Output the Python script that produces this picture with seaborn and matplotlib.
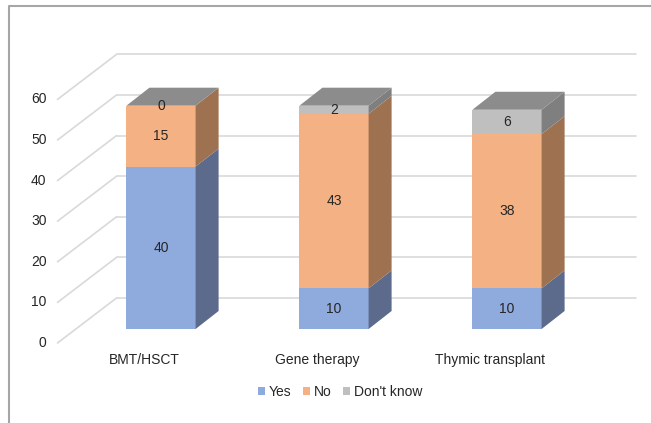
import numpy as np
import pandas as pd
import matplotlib
matplotlib.use('Agg')
import matplotlib.pyplot as plt
from matplotlib.patches import Polygon, Patch
from matplotlib.lines import Line2D
import seaborn as sns

# Data
categories = ['BMT/HSCT', 'Gene therapy', 'Thymic transplant']
yes = [40, 10, 10]
no = [15, 43, 38]
dont_know = [0, 2, 6]
series_names = ['Yes', 'No', "Don't know"]
y_ticks = [0, 10, 20, 30, 40, 50, 60]

front_colors = ['#8faadc', '#f4b183', '#bfbfbf']
side_colors = ['#5c6b8c', '#9e7251', '#7f7f7f']
top_color = '#8c8c8c'
grid_color = '#d9d9d9'
text_color = '#262626'

sns.set_style('white')
plt.rcParams['font.family'] = ['Liberation Sans', 'DejaVu Sans']

DPI = 100
fig = plt.figure(figsize=(6.51, 4.23), dpi=DPI)
# axes = front plane of the bars
ax = fig.add_axes([74.5 / 651, 94 / 423, 519 / 651, 243.6 / 423])

df = pd.DataFrame({'category': categories, 'Yes': yes, 'No': no, "Don't know": dont_know})
df['c1'] = df['Yes']
df['c2'] = df['Yes'] + df['No']
df['c3'] = df['c2'] + df["Don't know"]

bar_w = 0.4
# front faces: cumulative bars drawn largest first
for col, c in zip(['c3', 'c2', 'c1'], front_colors[::-1]):
    sns.barplot(data=df, x='category', y=col, color=c, width=bar_w,
                errorbar=None, linewidth=0, saturation=1, ax=ax, zorder=3)

ax.set_xlim(-0.5, 2.5)
ax.set_ylim(0, 60)
ax.axis('off')

# pixel -> data conversions for the 3D offsets
xppu = 519 / 3
yppu = 243.6 / 60
dx_bar, dy_bar = 23 / xppu, 18 / yppu      # bar depth
dx_back, dy_back = 42 / xppu, 31 / yppu    # back wall
dx_front, dy_front = -17 / xppu, -14 / yppu  # outer front plane

# back wall gridlines and side wall diagonals
for v in y_ticks:
    ax.plot([-0.5 + dx_back, 2.5 + dx_back], [v + dy_back, v + dy_back],
            color=grid_color, lw=1.2, zorder=0, clip_on=False)
    ax.plot([-0.5 + dx_front, -0.5 + dx_back], [v + dy_front, v + dy_back],
            color=grid_color, lw=1.2, zorder=0, clip_on=False)
    ax.text(-0.5 + dx_front - 11 / xppu, v + dy_front, str(v), ha='right', va='center',
            fontsize=10, color=text_color, clip_on=False)

# side and top faces
stacks = np.array([yes, no, dont_know])
for i, cat in enumerate(categories):
    bottom = 0
    xr = i + bar_w / 2
    for k in range(3):
        top = bottom + stacks[k, i]
        side = Polygon([(xr, bottom), (xr + dx_bar, bottom + dy_bar),
                        (xr + dx_bar, top + dy_bar), (xr, top)],
                       closed=True, facecolor=side_colors[k], edgecolor='none',
                       zorder=3, clip_on=False)
        ax.add_patch(side)
        val = stacks[k, i]
        ax.text(i, (bottom + top) / 2, str(val), ha='center', va='center',
                fontsize=10, color=text_color, zorder=5, clip_on=False)
        bottom = top
    xl = i - bar_w / 2
    top_face = Polygon([(xl, bottom), (xr, bottom), (xr + dx_bar, bottom + dy_bar),
                        (xl + dx_bar, bottom + dy_bar)],
                       closed=True, facecolor=top_color, edgecolor='none',
                       zorder=3, clip_on=False)
    ax.add_patch(top_face)
    # category labels sit on the outer front plane
    ax.text(i + dx_front, -31 / yppu, cat, ha='center', va='center', fontsize=10,
            color=text_color, clip_on=False)

# legend
handles = [Patch(facecolor=c, edgecolor='none') for c in front_colors]
fig.legend(handles, series_names, loc='center', bbox_to_anchor=(340 / 651, 1 - 392 / 423),
           ncol=3, frameon=False, fontsize=10, handlelength=0.55, handleheight=0.55,
           handletextpad=0.25, columnspacing=0.8, labelcolor=text_color)

# chart border (left and top)
fig.add_artist(Line2D([8.5 / 651, 8.5 / 651, 1], [0, 1 - 6.5 / 423, 1 - 6.5 / 423],
                      transform=fig.transFigure, color='#a6a6a6', lw=1.5))

fig.savefig('out.png', dpi=DPI)
